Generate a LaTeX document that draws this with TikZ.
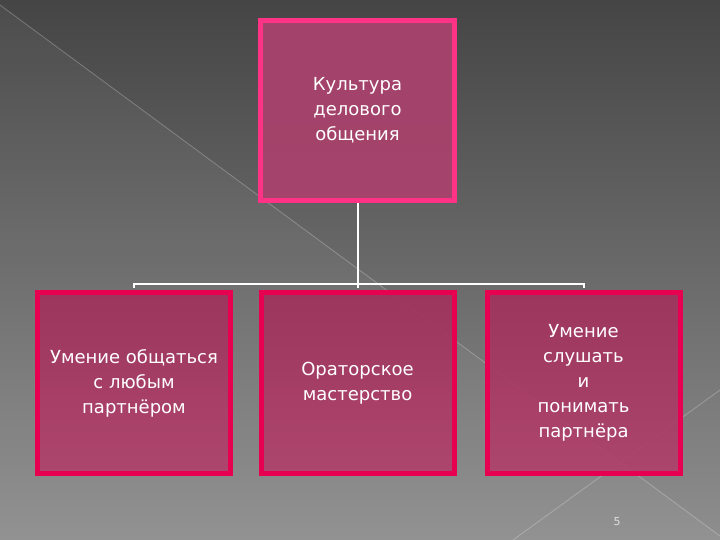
\documentclass[tikz,border=0pt]{standalone}
\usepackage{fontspec}
\setmainfont{DejaVu Sans}
\definecolor{bgtop}{HTML}{454545}
\definecolor{bgbot}{HTML}{8E8E8E}
\definecolor{topborder}{HTML}{FF3385}
\definecolor{topfill}{HTML}{A8426C}
\definecolor{boxborder}{HTML}{E6004F}
\definecolor{boxfilltop}{HTML}{A1325C}
\definecolor{boxfillbot}{HTML}{B0416B}
\tikzset{
  topbox/.style={draw=topborder, line width=5pt, fill=topfill, fill opacity=0.95, text opacity=1,
    minimum width=194pt, minimum height=180pt, text=white, align=center,
    font=\fontsize{18}{25}\selectfont, inner sep=0pt},
  subbox/.style={draw=boxborder, line width=5pt, top color=boxfilltop, bottom color=boxfillbot,
    fill opacity=0.93, draw opacity=1, text opacity=1,
    minimum width=193pt, minimum height=181pt, text=white, align=center,
    font=\fontsize{18}{25}\selectfont, inner sep=0pt},
  conn/.style={draw=white, line width=2pt},
  deco/.style={draw=white, opacity=0.25, line width=0.8pt}
}
\begin{document}
\begin{tikzpicture}[x=1pt,y=-1pt]
\useasboundingbox (0,0) rectangle (720,540);
\shade[top color=bgtop, bottom color=bgbot] (0,0) rectangle (720,540);
\fill[white, opacity=0.04] (0,5) -- (720,536) -- (720,540) -- (0,540) -- cycle;
\draw[deco] (0,5) -- (720,536);
\draw[deco] (513,540) -- (720,390);

\node[topbox] (top) at (357.5,110.5) {Культура\\делового\\общения};
\node[subbox] (b1) at (134,383) {Умение общаться\\с любым\\партнёром};
\node[subbox] (b2) at (357.5,383) {Ораторское\\мастерство};
\node[subbox] (b3) at (583.5,383) {Умение\\слушать\\и\\понимать\\партнёра};

\coordinate (hub) at (357.5,284);
\draw[conn] (top.south) -- (hub);
\draw[conn, shorten >=2.5pt] (hub) -| (b1.north);
\draw[conn, shorten >=2.5pt] (hub) -| (b3.north);
\draw[conn, shorten >=2.5pt] (hub) -- (b2.north);

\node[text=gray!25, font=\fontsize{11}{13}\selectfont] (pg) at (617,522) {5};
\end{tikzpicture}
\end{document}
